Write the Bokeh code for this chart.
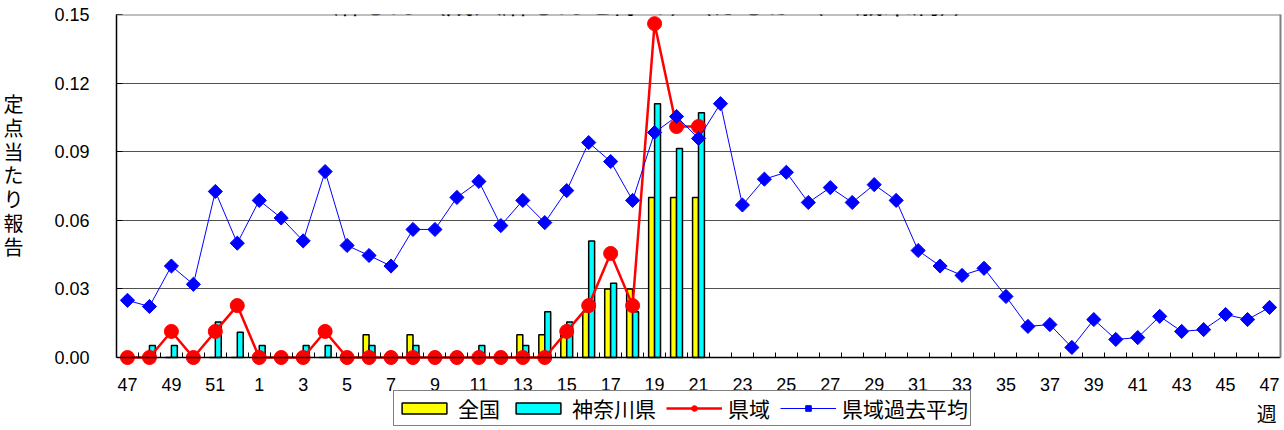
import math
from bokeh.plotting import figure
from bokeh.models import (Range1d, LinearAxis, FixedTicker, Span, Label, Legend,
                          LegendItem, ColumnDataSource, Grid)
from bokeh.transform import dodge
from bokeh.embed import file_html
from bokeh.resources import INLINE

# ---------------- data ----------------
weeks = ["47", "48", "49", "50", "51", "52"] + [str(i) for i in range(1, 48)]

# 全国 (national) – weeks 47 .. 21
zenkoku = [0, 0, 0, 0, 0, 0, 0, 0, 0, 0,
           0, 0.010, 0, 0.010, 0, 0, 0, 0, 0.010, 0.010,
           0.010, 0.020, 0.030, 0.030, 0.070, 0.070, 0.070]
# 神奈川県 (Kanagawa)
kanagawa = [0, 0.0052, 0.0052, 0, 0.0155, 0.011, 0.0052, 0, 0.0052, 0.0052,
            0, 0.0052, 0, 0.0052, 0, 0, 0.0052, 0, 0.0052, 0.020,
            0.0155, 0.051, 0.0325, 0.020, 0.111, 0.0914, 0.107]
# 県域 (prefectural area)
kenki = [0, 0, 0.0114, 0, 0.0114, 0.0227, 0, 0, 0, 0.0114,
         0, 0, 0, 0, 0, 0, 0, 0, 0, 0,
         0.0114, 0.0227, 0.0455, 0.0227, 0.146, 0.101, 0.101]
# 県域過去平均 (past average)
kako = [0.025, 0.0223, 0.040, 0.032, 0.0726, 0.050, 0.0687, 0.061, 0.051, 0.0813,
        0.049, 0.0446, 0.040, 0.056, 0.056, 0.070, 0.077, 0.0577, 0.0687, 0.059,
        0.073, 0.094, 0.0857, 0.0687, 0.0984, 0.1054, 0.0958, 0.111, 0.0667, 0.078,
        0.081, 0.0678, 0.0743, 0.0678, 0.0756, 0.0687, 0.0468, 0.040, 0.0359, 0.039,
        0.0267, 0.0136, 0.0144, 0.0044, 0.0166, 0.0079, 0.0087, 0.018, 0.0114, 0.0122,
        0.0188, 0.0166, 0.0219]

ytick_values = [0.0, 0.03, 0.06, 0.09, 0.12, 0.15]
ytick_labels = ["0.00", "0.03", "0.06", "0.09", "0.12", "0.15"]

title_text = "麻しん（成人麻しんを除く）（はしか（15歳未満））"
ylabel_text = "定\n点\n当\nた\nり\n報\n告"
xlabel_text = "週"
series_names = ["全国", "神奈川県", "県域", "県域過去平均"]

# ---------------- build ----------------
n = len(weeks)
nan = float("nan")


def pad(vals):
    return [v for v in vals] + [nan] * (n - len(vals))


x = list(range(n))
src = ColumnDataSource(dict(x=x, zen=pad(zenkoku), kan=pad(kanagawa),
                            ken=pad(kenki), kako=kako))

LAT = "Liberation Sans"
CJK = "Noto Sans CJK JP"

W, H = 1284, 430
TOP = 14
ZERO_PX = 357                      # y pixel of the zero line
PX_PER_UNIT = (ZERO_PX - TOP) / 0.15
ybottom = -(H - ZERO_PX) / PX_PER_UNIT

p = figure(width=W, height=H, output_backend="svg", toolbar_location=None,
           x_range=Range1d(-0.5, n - 0.5), y_range=Range1d(ybottom, 0.15),
           x_axis_location=None, y_axis_location=None,
           min_border_left=116, min_border_right=4, min_border_top=TOP,
           min_border_bottom=0,
           background_fill_color="white", border_fill_color="white")
p.outline_line_color = None
p.grid.visible = False

# y axis (left); trailing blank lines lift the stacked title to the reference height
yax = LinearAxis(ticker=FixedTicker(ticks=ytick_values),
                 major_label_overrides={v: s for v, s in zip(ytick_values, ytick_labels)},
                 bounds=(0, 0.15), axis_line_color="black", axis_line_width=1.5,
                 major_tick_in=6, major_tick_out=0, major_tick_line_color="black",
                 minor_tick_line_color=None, major_label_standoff=27,
                 major_label_text_font=LAT, major_label_text_font_size="18px",
                 major_label_text_color="black",
                 axis_label=ylabel_text + "\n\n\n\n", axis_label_orientation="horizontal",
                 axis_label_standoff=28, axis_label_text_font=CJK,
                 axis_label_text_font_size="20px", axis_label_text_font_style="normal",
                 axis_label_text_line_height=0.82, axis_label_text_color="black")
p.add_layout(yax, "left")

# right border
rax = LinearAxis(ticker=FixedTicker(ticks=[]), bounds=(0, 0.15),
                 axis_line_color="#808080", axis_line_width=2,
                 major_tick_in=0, major_tick_out=0, minor_tick_line_color=None,
                 major_label_standoff=0, major_label_text_font_size="0px")
p.add_layout(rax, "right")

# x axis drawn at y = 0
xax = LinearAxis(fixed_location=0,
                 ticker=FixedTicker(ticks=x[::2], minor_ticks=[i - 0.5 for i in range(n + 1)]),
                 major_label_overrides={i: weeks[i] for i in x[::2]},
                 axis_line_color="black", axis_line_width=1.5,
                 major_tick_line_color=None,
                 minor_tick_in=5, minor_tick_out=0, minor_tick_line_color="black",
                 minor_tick_line_width=1,
                 major_label_standoff=14, major_label_text_font=LAT,
                 major_label_text_font_size="18px", major_label_text_color="black")
p.add_layout(xax, "below")

# grid lines
p.add_layout(Grid(dimension=1, ticker=FixedTicker(ticks=ytick_values[1:-1]),
                  grid_line_color="#505050", grid_line_width=1))
p.add_layout(Span(location=0.15, dimension="width", line_color="#808080", line_width=2))

# bars
bw = 0.27
r_zen = p.vbar(x=dodge("x", -bw / 2, range=p.x_range), top="zen", bottom=0, width=bw,
               source=src, fill_color="#FFFF00", line_color="black", line_width=1.5)
r_kan = p.vbar(x=dodge("x", bw / 2, range=p.x_range), top="kan", bottom=0, width=bw,
               source=src, fill_color="#00FFFF", line_color="black", line_width=1.5)

# 県域
r_ken_l = p.line("x", "ken", source=src, line_color="#FF0000", line_width=2.5)
r_ken_m = p.scatter("x", "ken", source=src, marker="circle", size=14,
                    fill_color="#FF0000", line_color="#FF0000")
# 県域過去平均
r_kako_l = p.line("x", "kako", source=src, line_color="#0000FF", line_width=1)
r_kako_m = p.scatter("x", "kako", source=src, marker="square", angle=math.pi / 4,
                     size=10, fill_color="#0000FF", line_color="#0000FF")

legend = Legend(items=[LegendItem(label=series_names[0], renderers=[r_zen]),
                       LegendItem(label=series_names[1], renderers=[r_kan]),
                       LegendItem(label=series_names[2], renderers=[r_ken_l, r_ken_m]),
                       LegendItem(label=series_names[3], renderers=[r_kako_l, r_kako_m])],
                orientation="horizontal", location=(277, 4),
                border_line_color="black", border_line_width=1,
                background_fill_color="white", background_fill_alpha=1,
                label_text_font=CJK, label_text_font_size="21px",
                label_text_line_height=0.85, label_text_color="black",
                glyph_width=56, glyph_height=14, label_standoff=6,
                spacing=10, padding=2, margin=0)
p.add_layout(legend)

# texts (title: only its lower part lies on the canvas, as in the reference)
p.add_layout(Label(x=24.14, y=0.15 + (TOP - 1) / PX_PER_UNIT, text=title_text,
                   text_align="center", text_baseline="alphabetic", text_font=CJK,
                   text_font_size="28px", text_color="black"))
p.add_layout(Label(x=51.87, y=-(413 - ZERO_PX) / PX_PER_UNIT, text=xlabel_text,
                   text_align="center", text_baseline="middle", text_font=CJK,
                   text_font_size="20px", text_color="black"))

open("out.html", "w").write(file_html(p, INLINE))
